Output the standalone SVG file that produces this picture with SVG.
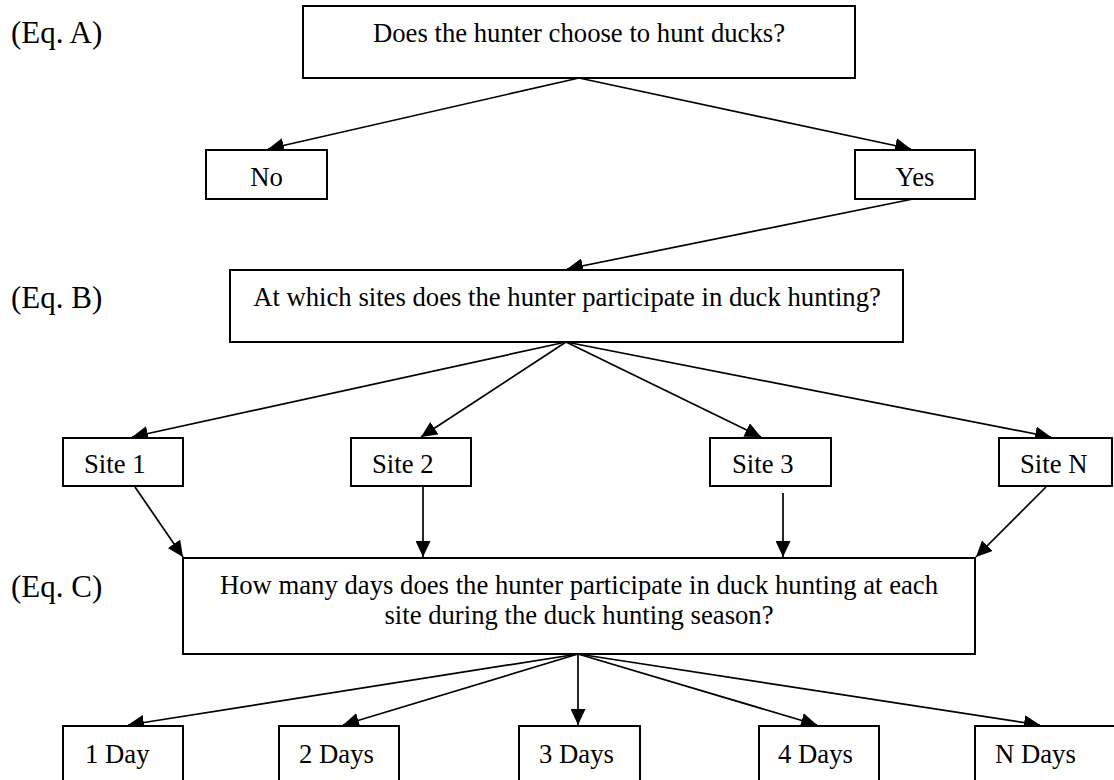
<svg xmlns="http://www.w3.org/2000/svg" width="1114" height="780" viewBox="0 0 1114 780">
<style>
  .box { fill: #fff; stroke: #000; stroke-width: 2; }
  .t { font-family: "Liberation Serif", "Times New Roman", serif; font-size: 26.7px; fill: #000; }
  .c { text-anchor: middle; }
  .eq { font-family: "Liberation Serif", "Times New Roman", serif; font-size: 31px; fill: #000; }
  .ln { stroke: #000; stroke-width: 1.7; fill: none; marker-end: url(#ah); }
</style>
<defs>
  <marker id="ah" markerUnits="userSpaceOnUse" markerWidth="17" markerHeight="15" refX="16" refY="7.5" orient="auto">
    <path d="M0,0 L16,7.5 L0,15 z" fill="#000"/>
  </marker>
</defs>
<rect width="1114" height="780" fill="#fff"/>
<g id="labels">
  <text class="eq" x="11" y="43">(Eq. A)</text>
  <text class="eq" x="11" y="308">(Eq. B)</text>
  <text class="eq" x="11" y="597">(Eq. C)</text>
</g>
<g id="connectors">
  <line class="ln" x1="579" y1="78" x2="268" y2="149"/>
  <line class="ln" x1="579" y1="78" x2="911" y2="149"/>
  <line class="ln" x1="913" y1="199" x2="567" y2="269"/>
  <line class="ln" x1="566" y1="342" x2="132" y2="437"/>
  <line class="ln" x1="566" y1="342" x2="421" y2="437"/>
  <line class="ln" x1="566" y1="342" x2="761" y2="437"/>
  <line class="ln" x1="566" y1="342" x2="1051" y2="437"/>
  <line class="ln" x1="135" y1="487" x2="183" y2="557"/>
  <line class="ln" x1="423" y1="487" x2="423" y2="557"/>
  <line class="ln" x1="783" y1="493" x2="783" y2="557"/>
  <line class="ln" x1="1046" y1="487" x2="976" y2="557"/>
  <line class="ln" x1="578" y1="654" x2="128" y2="725"/>
  <line class="ln" x1="578" y1="654" x2="343" y2="725"/>
  <line class="ln" x1="578" y1="654" x2="578" y2="725"/>
  <line class="ln" x1="578" y1="654" x2="817" y2="725"/>
  <line class="ln" x1="578" y1="654" x2="1040" y2="725"/>
</g>
<g id="qA"><rect class="box" x="303" y="6" width="552" height="72"/><text class="t c" x="579" y="42">Does the hunter choose to hunt ducks?</text></g>
<g id="no"><rect class="box" x="206" y="150" width="121" height="49"/><text class="t c" x="266.5" y="186">No</text></g>
<g id="yes"><rect class="box" x="855" y="150" width="120" height="49"/><text class="t c" x="915" y="186">Yes</text></g>
<g id="qB"><rect class="box" x="230" y="270" width="673" height="72"/><text class="t c" x="567" y="306">At which sites does the hunter participate in duck hunting?</text></g>
<g id="site1"><rect class="box" x="63" y="438" width="120" height="48"/><text class="t" x="84" y="473">Site 1</text></g>
<g id="site2"><rect class="box" x="351" y="438" width="120" height="48"/><text class="t" x="372" y="473">Site 2</text></g>
<g id="site3"><rect class="box" x="710" y="438" width="121" height="48"/><text class="t" x="732" y="473">Site 3</text></g>
<g id="siteN"><rect class="box" x="999" y="438" width="113" height="48"/><text class="t" x="1020" y="473">Site N</text></g>
<g id="qC"><rect class="box" x="183" y="558" width="792" height="96"/><text class="t c" x="579" y="594">How many days does the hunter participate in duck hunting at each</text><text class="t c" x="579" y="624">site during the duck hunting season?</text></g>
<g id="d1"><rect class="box" x="63" y="726" width="120" height="60"/><text class="t" x="85" y="763">1 Day</text></g>
<g id="d2"><rect class="box" x="279" y="726" width="120" height="60"/><text class="t" x="299" y="763">2 Days</text></g>
<g id="d3"><rect class="box" x="519" y="726" width="121" height="60"/><text class="t" x="539" y="763">3 Days</text></g>
<g id="d4"><rect class="box" x="759" y="726" width="120" height="60"/><text class="t" x="778" y="763">4 Days</text></g>
<g id="dN"><rect class="box" x="975" y="726" width="150" height="60"/><text class="t" x="995" y="763">N Days</text></g>
</svg>
